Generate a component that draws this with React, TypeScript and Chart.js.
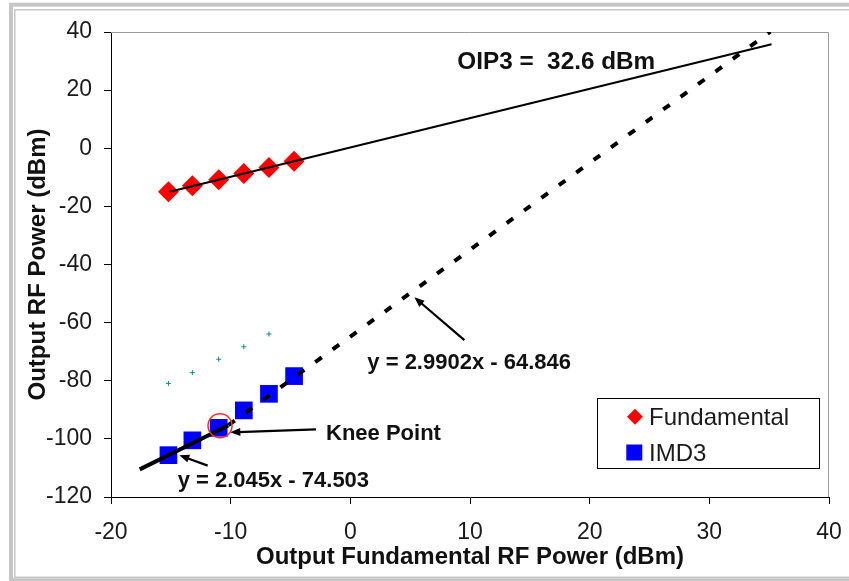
import React, { useEffect, useRef } from "react";
import { Chart, registerables } from "chart.js";

Chart.register(...registerables);

const FONT = "'Liberation Sans', Arial, Helvetica, sans-serif";

// ---- data ----
const fundamentalX = [-15.2, -13.2, -11.0, -8.9, -6.8, -4.7];
const fundamentalY = [-15.0, -12.9, -10.8, -8.7, -6.6, -4.5];

const imd3X = [-15.2, -13.2, -11.0, -8.9, -6.8, -4.7];
const imd3Y = [-105.6, -100.5, -96.2, -90.2, -84.5, -78.4];

const refX = [-15.2, -13.2, -11.0, -8.9, -6.8];
const refY = [-80.9, -77.2, -72.6, -68.3, -63.9];

const fundTrendX = [-15.1, 35.2];
const fundTrendY = [-15.0, 35.8];

const imdLowTrendX = [-17.6, -10.2];
const imdLowTrendY = [-110.5, -95.4];

const imdHighTrendX = [-10.2, 35.1];
const imdHighTrendY = [-95.3, 40.1];

const xTicks = [-20, -10, 0, 10, 20, 30, 40];
const yTicks = [-120, -100, -80, -60, -40, -20, 0, 20, 40];

const legendLabels = ["Fundamental", "IMD3"];
const xTitle = "Output Fundamental RF Power (dBm)";
const yTitle = "Output RF Power (dBm)";

// annotation texts (anchor in data coords: left edge, vertical centre)
const noteTexts = ["OIP3 =  32.6 dBm", "y = 2.9902x - 64.846", "Knee Point", "y = 2.045x - 74.503"];
const noteX = [8.94, 1.42, -2.03, -14.43];
const noteY = [30.26, -73.3, -97.8, -113.8];

// arrows: tail -> head in data coords
const arrowTailX = [9.53, -2.87, -11.92];
const arrowTailY = [-66.0, -96.7, -109.2];
const arrowHeadX = [5.35, -10.03, -14.29];
const arrowHeadY = [-51.3, -97.75, -105.6];

const kneeX = -10.89;
const kneeY = -95.5;

const toPts = (xs: number[], ys: number[]) => xs.map((x, i) => ({ x, y: ys[i] }));

const decorPlugin = {
  id: "decor",
  beforeDraw(chart: any) {
    const ctx = chart.ctx;
    ctx.save();
    ctx.fillStyle = "#ffffff";
    ctx.fillRect(0, 0, chart.width, chart.height);
    ctx.strokeStyle = "#c6c6c6";
    ctx.lineWidth = 4;
    ctx.strokeRect(11, 4.7, 900, 575.5);
    ctx.lineWidth = 1.5;
    ctx.strokeRect(14.8, 9.8, 900, 567.5);
    ctx.restore();
  },
  beforeDatasetsDraw(chart: any) {
    const { ctx, chartArea } = chart;
    ctx.save();
    ctx.strokeStyle = "#9a9a9a";
    ctx.lineWidth = 1;
    ctx.beginPath();
    ctx.moveTo(chartArea.left, chartArea.top + 0.5);
    ctx.lineTo(chartArea.right - 0.5, chartArea.top + 0.5);
    ctx.lineTo(chartArea.right - 0.5, chartArea.bottom);
    ctx.stroke();
    ctx.restore();
  },
  afterDraw(chart: any) {
    const { ctx } = chart;
    const sx = chart.scales.x;
    const sy = chart.scales.y;
    const px = (v: number) => sx.getPixelForValue(v);
    const py = (v: number) => sy.getPixelForValue(v);
    ctx.save();

    // annotation texts
    const sizes = [24.3, 22, 22, 22];
    noteTexts.forEach((t, i) => {
      ctx.font = `bold ${sizes[i]}px ${FONT}`;
      ctx.fillStyle = "#111111";
      ctx.textAlign = "left";
      ctx.textBaseline = "alphabetic";
      ctx.fillText(t, px(noteX[i]), py(noteY[i]) + sizes[i] * 0.358);
    });

    // arrows
    ctx.strokeStyle = "#000";
    ctx.fillStyle = "#000";
    arrowTailX.forEach((_, i) => {
      const x1 = px(arrowTailX[i]);
      const y1 = py(arrowTailY[i]);
      const x2 = px(arrowHeadX[i]);
      const y2 = py(arrowHeadY[i]);
      const ang = Math.atan2(y2 - y1, x2 - x1);
      const hl = 10;
      const hw = 4;
      ctx.lineWidth = 2.2;
      ctx.beginPath();
      ctx.moveTo(x1, y1);
      ctx.lineTo(x2 - Math.cos(ang) * hl * 0.8, y2 - Math.sin(ang) * hl * 0.8);
      ctx.stroke();
      ctx.beginPath();
      ctx.moveTo(x2, y2);
      ctx.lineTo(x2 - Math.cos(ang) * hl + Math.sin(ang) * hw, y2 - Math.sin(ang) * hl - Math.cos(ang) * hw);
      ctx.lineTo(x2 - Math.cos(ang) * hl - Math.sin(ang) * hw, y2 - Math.sin(ang) * hl + Math.cos(ang) * hw);
      ctx.closePath();
      ctx.fill();
    });

    // knee circle
    ctx.strokeStyle = "#ff2a2a";
    ctx.lineWidth = 1.5;
    ctx.beginPath();
    ctx.arc(px(kneeX), py(kneeY), 12, 0, Math.PI * 2);
    ctx.stroke();

    // legend
    const lx = 597.5, ly = 398.5, lw = 222, lh = 70;
    ctx.fillStyle = "#fff";
    ctx.fillRect(lx, ly, lw, lh);
    ctx.strokeStyle = "#000";
    ctx.lineWidth = 1;
    ctx.strokeRect(lx, ly, lw, lh);
    // diamond
    const dx = 635, dy = 416.7, r = 8;
    ctx.fillStyle = "#ff0000";
    ctx.beginPath();
    ctx.moveTo(dx - r, dy);
    ctx.lineTo(dx, dy - r);
    ctx.lineTo(dx + r, dy);
    ctx.lineTo(dx, dy + r);
    ctx.closePath();
    ctx.fill();
    // square
    ctx.fillStyle = "#0000ff";
    ctx.fillRect(626.3, 444.5, 16, 16);
    ctx.fillStyle = "#1a1a1a";
    ctx.font = `24px ${FONT}`;
    ctx.textBaseline = "alphabetic";
    ctx.fillText(legendLabels[0], 649, 416.7 + 24 * 0.358);
    ctx.fillText(legendLabels[1], 649, 452.7 + 24 * 0.358);
    ctx.restore();
  },
};

export default function App() {
  const ref = useRef<HTMLCanvasElement | null>(null);
  useEffect(() => {
    if (!ref.current) return;
    const chart = new Chart(ref.current, {
      type: "scatter",
      data: {
        datasets: [
          {
            label: "Fund trend",
            data: toPts(fundTrendX, fundTrendY),
            showLine: true,
            borderColor: "#000",
            borderWidth: 2,
            pointRadius: 0,
            order: 0,
          },
          {
            label: "IMD3 trend low",
            data: toPts(imdLowTrendX, imdLowTrendY),
            showLine: true,
            borderColor: "#000",
            borderWidth: 4,
            pointRadius: 0,
            order: 0,
          },
          {
            label: "IMD3 trend high",
            data: toPts(imdHighTrendX, imdHighTrendY),
            showLine: true,
            borderColor: "#000",
            borderWidth: 4,
            borderDash: [8, 13.5],
            borderCapStyle: "butt",
            pointRadius: 0,
            order: 0,
          },
          {
            label: legendLabels[0],
            data: toPts(fundamentalX, fundamentalY),
            pointStyle: "rectRot",
            pointRadius: 10.5,
            backgroundColor: "#ff0000",
            borderColor: "#ff0000",
            borderWidth: 0,
            order: 1,
          },
          {
            label: legendLabels[1],
            data: toPts(imd3X, imd3Y),
            pointStyle: "rect",
            pointRadius: 12.5,
            backgroundColor: "#0000ff",
            borderColor: "#0000ff",
            borderWidth: 0,
            order: 1,
          },
          {
            label: "ref",
            data: toPts(refX, refY),
            pointStyle: "cross",
            pointRadius: 2.5,
            borderColor: "#178a8a",
            borderWidth: 1,
            order: 2,
          },
        ],
      },
      options: {
        animation: false,
        responsive: false,
        events: [],
        layout: { padding: { left: 0, right: 20, top: 32, bottom: 0 } },
        plugins: { legend: { display: false }, tooltip: { enabled: false } },
        scales: {
          x: {
            type: "linear",
            min: -20,
            max: 40,
            afterFit: (s: any) => {
              s.height = 84;
              s.paddingLeft = 0;
              s.paddingRight = 0;
            },
            afterBuildTicks: (s: any) => {
              s.ticks = xTicks.map((v) => ({ value: v }));
            },
            ticks: {
              font: { family: FONT, size: 23 },
              color: "#1a1a1a",
              padding: 15,
              maxRotation: 0,
            },
            grid: { drawOnChartArea: false, drawTicks: true, tickLength: 7, color: "#000" },
            border: { color: "#000", width: 1 },
            title: {
              display: true,
              text: xTitle,
              font: { family: FONT, size: 24, weight: "bold" },
              color: "#111",
              padding: { top: 0, bottom: 9 },
            },
          },
          y: {
            type: "linear",
            min: -120,
            max: 40,
            afterFit: (s: any) => {
              s.width = 111;
              s.paddingTop = 0;
              s.paddingBottom = 0;
            },
            afterBuildTicks: (s: any) => {
              s.ticks = yTicks.map((v) => ({ value: v }));
            },
            ticks: {
              font: { family: FONT, size: 23 },
              color: "#1a1a1a",
              padding: 12,
            },
            grid: { drawOnChartArea: false, drawTicks: true, tickLength: 7, color: "#000" },
            border: { color: "#000", width: 1 },
            title: {
              display: true,
              text: yTitle,
              font: { family: FONT, size: 24, weight: "bold" },
              color: "#111",
              padding: { top: 23.6, bottom: 0 },
            },
          },
        },
      },
      plugins: [decorPlugin],
    } as any);
    return () => chart.destroy();
  }, []);
  return (
    <div style={{ position: "fixed", left: 0, top: 0, width: 849, height: 581 }}>
      <canvas ref={ref} width={849} height={581} style={{ display: "block" }} />
    </div>
  );
}
